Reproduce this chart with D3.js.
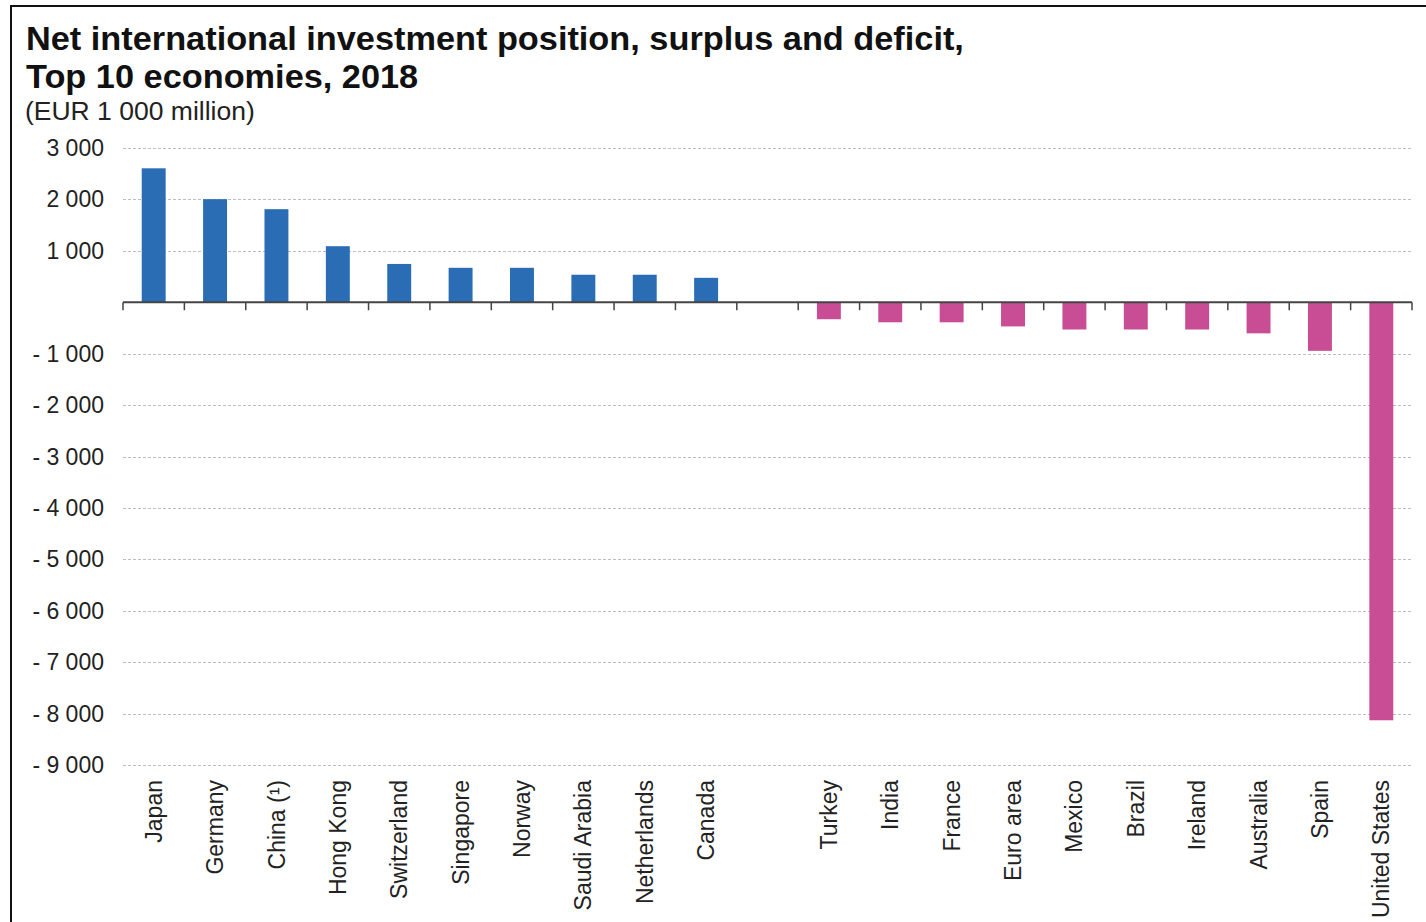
<!DOCTYPE html>
<html>
<head>
<meta charset="utf-8">
<script src="https://cdn.jsdelivr.net/npm/d3@7"></script>
<style>
  body { margin: 0; background: #fff; }
  svg { display: block; font-family: "Liberation Sans", Arial, sans-serif; }
</style>
</head>
<body>
<div id="chart"></div>
<script>
// surplus economies (blue) and deficit economies (pink), EUR 1 000 million
const surplusNames = ["Japan", "Germany", "China (\u00b9)", "Hong Kong", "Switzerland", "Singapore", "Norway", "Saudi Arabia", "Netherlands", "Canada"];
const surplusValues = [2605, 2005, 1810, 1090, 745, 670, 670, 535, 535, 475];
const deficitNames = ["Turkey", "India", "France", "Euro area", "Mexico", "Brazil", "Ireland", "Australia", "Spain", "United States"];
const deficitValues = [-330, -390, -390, -470, -530, -530, -530, -605, -945, -8130];
const yTicks = [3000, 2000, 1000, 0, -1000, -2000, -3000, -4000, -5000, -6000, -7000, -8000, -9000];

document.addEventListener("DOMContentLoaded", () => {
    const W = 1426, H = 922;
    const svg = d3.select("#chart")
        .append("svg")
        .attr("width", W)
        .attr("height", H);

    // frame
    svg.append("rect")
        .attr("x", 11).attr("y", 6)
        .attr("width", W + 20).attr("height", H + 20)
        .attr("fill", "none")
        .attr("stroke", "#111")
        .attr("stroke-width", 2);

    // title (source image is slightly wider than tall)
    const title = svg.append("g").attr("transform", "translate(26,0) scale(1.04,1)");
    title.append("text").attr("x", 0).attr("y", 50)
        .style("font-size", "33px").style("font-weight", "bold").attr("fill", "#111")
        .text("Net international investment position, surplus and deficit,");
    title.append("text").attr("x", 0).attr("y", 88)
        .style("font-size", "33px").style("font-weight", "bold").attr("fill", "#111")
        .text("Top 10 economies, 2018");
    title.append("text").attr("x", -1).attr("y", 120)
        .style("font-size", "25.5px").attr("fill", "#222")
        .text("(EUR 1 000 million)");

    const gap = " ";
    const data = surplusNames.map((n, i) => ({name: n, value: surplusValues[i], pos: true}))
        .concat(deficitNames.map((n, i) => ({name: n, value: deficitValues[i], pos: false})));
    const domain = surplusNames.concat([gap], deficitNames);

    const x = d3.scaleBand()
        .domain(domain)
        .range([123, 1412])
        .paddingInner(0).paddingOuter(0);

    const y = d3.scaleLinear()
        .domain([-9000, 3000])
        .range([765, 148]);

    const loc = d3.formatLocale({decimal: ".", thousands: " ", grouping: [3], currency: ["", ""], minus: "- "});
    const fmt = v => v === 0 ? "" : loc.format(",")(v);

    // grid lines
    svg.append("g")
        .selectAll("line")
        .data(yTicks.filter(d => d !== 0))
        .join("line")
        .attr("x1", 123).attr("x2", 1412)
        .attr("y1", d => Math.round(y(d)) + 0.5)
        .attr("y2", d => Math.round(y(d)) + 0.5)
        .attr("stroke", "#bdbdbd")
        .attr("stroke-dasharray", "3,2");

    // y labels
    svg.append("g")
        .selectAll("text")
        .data(yTicks)
        .join("text")
        .attr("x", 104)
        .attr("y", d => y(d))
        .attr("dy", "0.35em")
        .attr("text-anchor", "end")
        .style("font-size", "23px")
        .attr("fill", "#222")
        .text(fmt);

    // bars
    svg.append("g")
        .selectAll("rect")
        .data(data)
        .join("rect")
        .attr("x", d => x(d.name) + x.bandwidth() * 0.305)
        .attr("width", x.bandwidth() * 0.39)
        .attr("y", d => y(Math.max(0, d.value)))
        .attr("height", d => Math.abs(y(d.value) - y(0)))
        .attr("fill", d => d.pos ? "#2a6db4" : "#c84d95");

    // zero axis with ticks between categories
    const ax = svg.append("g");
    ax.append("line")
        .attr("x1", 123).attr("x2", 1412)
        .attr("y1", y(0)).attr("y2", y(0))
        .attr("stroke", "#444").attr("stroke-width", 2);
    const bounds = domain.map(d => x(d)).concat([x.range()[1]]);
    ax.selectAll("line.tick")
        .data(bounds)
        .join("line")
        .attr("class", "tick")
        .attr("x1", d => d).attr("x2", d => d)
        .attr("y1", y(0)).attr("y2", y(0) + 8)
        .attr("stroke", "#444").attr("stroke-width", 1.5);

    // category labels
    svg.append("g")
        .selectAll("text")
        .data(domain.filter(d => d !== gap))
        .join("text")
        .attr("transform", d => `translate(${x(d) + x.bandwidth() / 2}, 780) rotate(-90)`)
        .attr("dy", "0.35em")
        .attr("text-anchor", "end")
        .style("font-size", "23px")
        .attr("fill", "#222")
        .text(d => d);
});
</script>
</body>
</html>
